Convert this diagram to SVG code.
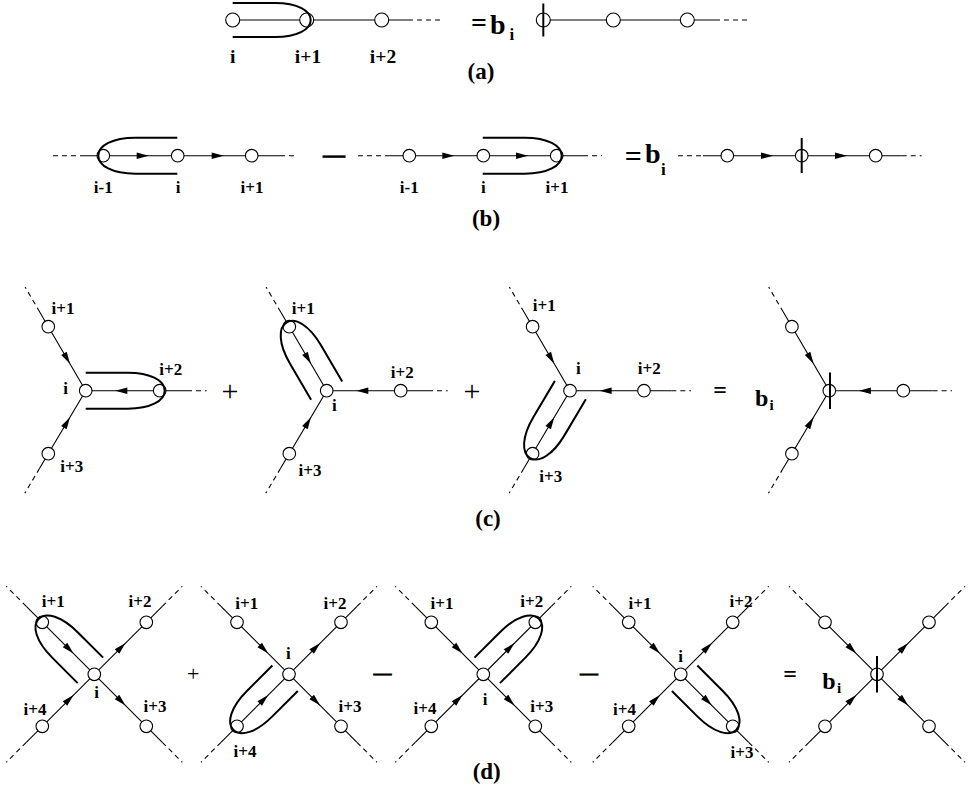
<svg xmlns="http://www.w3.org/2000/svg" xmlns:xlink="http://www.w3.org/1999/xlink" width="980" height="791" viewBox="0 0 980 791">
<style>
.e{stroke:#000;stroke-width:1.1;fill:none}
.d{stroke:#000;stroke-width:1.1;fill:none;stroke-dasharray:5 4}
.n circle{fill:#fff;stroke:#000;stroke-width:1.1}
.lp{stroke:#000;stroke-width:2;fill:none}
.bar{stroke:#000;stroke-width:2}
text{font-family:"Liberation Serif","Times New Roman",serif;font-weight:bold;fill:#000}
.l{font-size:17px;text-anchor:middle}
.la{font-size:19.5px;text-anchor:middle}
.cap{font-size:23px;text-anchor:middle}
.op{font-weight:normal;text-anchor:middle}
.dash{stroke:#000;stroke-width:0.7}
</style>
<defs>
<path id="ah" d="M0,0 L-12,-3.2 L-12,3.2 Z" fill="#000"/>
<path id="lpL" class="lp" d="M-74,-18 L-32,-18 C-9,-18 5,-10 5,0 C5,10 -9,18 -32,18 L-74,18"/>
<path id="lpD" class="lp" d="M-68,-18 L-32,-18 C-9,-18 5,-10 5,0 C5,10 -9,18 -32,18 L-68,18"/>
</defs>

<!-- ================= (a) ================= -->
<g id="connectors-a">
<line class="e" x1="232.7" y1="20" x2="408" y2="20"/>
<line class="d" x1="408" y1="20" x2="443" y2="20"/>
<line class="e" x1="543.3" y1="20" x2="715" y2="20"/>
<line class="d" x1="715" y1="20" x2="750" y2="20"/>
</g>
<g id="a-n-i" class="n"><circle cx="232.7" cy="20" r="7"/></g>
<g id="a-n-i1" class="n"><circle cx="306.7" cy="20" r="7"/></g>
<g id="a-n-i2" class="n"><circle cx="381.7" cy="20" r="7"/></g>
<g id="a-r-n0" class="n"><circle cx="543.3" cy="20" r="7"/></g>
<g id="a-r-n1" class="n"><circle cx="613.3" cy="20" r="7"/></g>
<g id="a-r-n2" class="n"><circle cx="687.3" cy="20" r="7"/></g>
<path class="lp" d="M232.7,3 L275,3 C298,3 310.7,11 310.7,20 C310.7,29 298,37 275,37 L232.7,37"/>
<line class="bar" x1="543.3" y1="3.5" x2="543.3" y2="36.5"/>
<text class="la" x="232.7" y="63">i</text>
<text class="la" x="308" y="63">i+1</text>
<text class="la" x="383" y="63">i+2</text>
<text x="479" y="32" font-size="28" text-anchor="middle">=</text>
<text x="490" y="34.3" font-size="28">b</text>
<text x="509.5" y="39.5" font-size="17">i</text>
<text class="cap" x="481" y="79">(a)</text>

<!-- ================= (b) ================= -->
<g id="connectors-b">
<line class="d" x1="53" y1="155.7" x2="80" y2="155.7"/>
<line class="e" x1="80" y1="155.7" x2="280" y2="155.7"/>
<line class="d" x1="280" y1="155.7" x2="297" y2="155.7"/>
<use xlink:href="#ah" transform="translate(148.7,155.7)"/>
<use xlink:href="#ah" transform="translate(223.7,155.7)"/>

<line class="d" x1="358" y1="155.7" x2="385" y2="155.7"/>
<line class="e" x1="385" y1="155.7" x2="583" y2="155.7"/>
<line class="d" x1="583" y1="155.7" x2="602" y2="155.7"/>
<use xlink:href="#ah" transform="translate(454.3,155.7)"/>
<use xlink:href="#ah" transform="translate(528,155.7)"/>

<line class="d" x1="678" y1="155.7" x2="703" y2="155.7"/>
<line class="e" x1="703" y1="155.7" x2="901.7" y2="155.7"/>
<line class="d" x1="901.7" y1="155.7" x2="921.7" y2="155.7"/>
<use xlink:href="#ah" transform="translate(773,155.7)"/>
<use xlink:href="#ah" transform="translate(847,155.7)"/>
</g>
<g id="b1-n-im1" class="n"><circle cx="103.3" cy="155.7" r="6.3"/></g>
<g id="b1-n-i" class="n"><circle cx="177.7" cy="155.7" r="6.3"/></g>
<g id="b1-n-ip1" class="n"><circle cx="251.7" cy="155.7" r="6.3"/></g>
<g id="b2-n-im1" class="n"><circle cx="409.3" cy="155.7" r="6.3"/></g>
<g id="b2-n-i" class="n"><circle cx="483.3" cy="155.7" r="6.3"/></g>
<g id="b2-n-ip1" class="n"><circle cx="556.7" cy="155.7" r="6.3"/></g>
<g id="b3-n-im1" class="n"><circle cx="727.3" cy="155.7" r="6.3"/></g>
<g id="b3-n-i" class="n"><circle cx="801.7" cy="155.7" r="6.3"/></g>
<g id="b3-n-ip1" class="n"><circle cx="875.7" cy="155.7" r="6.3"/></g>
<line class="bar" x1="801.7" y1="138" x2="801.7" y2="173"/>
<use xlink:href="#lpL" transform="translate(103.3,155.7) rotate(180)"/>
<use xlink:href="#lpL" transform="translate(556.7,155.7)"/>
<text class="l" x="103.3" y="193">i-1</text>
<text class="l" x="178" y="193">i</text>
<text class="l" x="252" y="193">i+1</text>
<text class="l" x="409.3" y="193">i-1</text>
<text class="l" x="483.3" y="193">i</text>
<text class="l" x="557" y="193">i+1</text>
<text class="dash" x="334" y="161.5" font-size="22" text-anchor="middle">—</text>
<text x="633.3" y="166" font-size="30" text-anchor="middle">=</text>
<text x="645" y="162.7" font-size="28">b</text>
<text x="661" y="175" font-size="17">i</text>
<text class="cap" x="486" y="226">(b)</text>

<!-- ================= (c) ================= -->
<g id="connectors-c">
<path class="e" d="M39.7,312 L85.7,390.7 L39.6,468.3 M85.7,390.7 H187"/>
<path class="d" d="M39.7,312 L25.1,287 M39.6,468.3 L24.8,493.3 M187,390.7 H206.7"/>
<use xlink:href="#ah" transform="translate(70,363.8) rotate(59.7)"/>
<use xlink:href="#ah" transform="translate(70,417.2) rotate(-59.3)"/>
<use xlink:href="#ah" transform="translate(115.3,390.7) rotate(180)"/>
<path class="e" d="M280.7,312 L326.7,390.7 L280.6,468.3 M326.7,390.7 H428"/>
<path class="d" d="M280.7,312 L266.1,287 M280.6,468.3 L265.8,493.3 M428,390.7 H447.7"/>
<use xlink:href="#ah" transform="translate(311,363.8) rotate(59.7)"/>
<use xlink:href="#ah" transform="translate(311,417.2) rotate(-59.3)"/>
<use xlink:href="#ah" transform="translate(356.3,390.7) rotate(180)"/>
<path class="e" d="M524,312 L570,390.7 L523.9,468.3 M570,390.7 H671.3"/>
<path class="d" d="M524,312 L509.4,287 M523.9,468.3 L509.1,493.3 M671.3,390.7 H691"/>
<use xlink:href="#ah" transform="translate(554.3,363.8) rotate(59.7)"/>
<use xlink:href="#ah" transform="translate(554.3,417.2) rotate(-59.3)"/>
<use xlink:href="#ah" transform="translate(599.6,390.7) rotate(180)"/>
<path class="e" d="M783.3,312 L829.3,390.7 L783.2,468.3 M829.3,390.7 H932.6"/>
<path class="d" d="M783.3,312 L768.7,287 M783.2,468.3 L768.4,493.3 M932.6,390.7 H952"/>
<use xlink:href="#ah" transform="translate(813.6,363.8) rotate(59.7)"/>
<use xlink:href="#ah" transform="translate(813.6,417.2) rotate(-59.3)"/>
<use xlink:href="#ah" transform="translate(858.9,390.7) rotate(180)"/>
</g>
<g id="c1-n-i" class="n"><circle cx="85.7" cy="390.7" r="6.3"/></g>
<g id="c1-n-i1" class="n"><circle cx="48.3" cy="326.7" r="6.3"/></g>
<g id="c1-n-i2" class="n"><circle cx="159.7" cy="390.7" r="6.3"/></g>
<g id="c1-n-i3" class="n"><circle cx="48.3" cy="453.7" r="6.3"/></g>
<g id="c2-n-i" class="n"><circle cx="326.7" cy="390.7" r="6.3"/></g>
<g id="c2-n-i1" class="n"><circle cx="289.3" cy="326.7" r="6.3"/></g>
<g id="c2-n-i2" class="n"><circle cx="400.7" cy="390.7" r="6.3"/></g>
<g id="c2-n-i3" class="n"><circle cx="289.3" cy="453.7" r="6.3"/></g>
<g id="c3-n-i" class="n"><circle cx="570" cy="390.7" r="6.3"/></g>
<g id="c3-n-i1" class="n"><circle cx="532.6" cy="326.7" r="6.3"/></g>
<g id="c3-n-i2" class="n"><circle cx="644" cy="390.7" r="6.3"/></g>
<g id="c3-n-i3" class="n"><circle cx="532.6" cy="453.7" r="6.3"/></g>
<g id="c4-n-i" class="n"><circle cx="829.3" cy="390.7" r="6.3"/></g>
<g id="c4-n-i1" class="n"><circle cx="791.9" cy="326.7" r="6.3"/></g>
<g id="c4-n-i2" class="n"><circle cx="903.3" cy="390.7" r="6.3"/></g>
<g id="c4-n-i3" class="n"><circle cx="791.9" cy="453.7" r="6.3"/></g>
<line class="bar" x1="830" y1="372.5" x2="830" y2="409"/>
<use xlink:href="#lpL" transform="translate(159.7,390.7)"/>
<use xlink:href="#lpL" transform="translate(289.3,326.7) rotate(-120.3)"/>
<use xlink:href="#lpL" transform="translate(532.6,453.7) rotate(120.7)"/>
<text class="l" x="63" y="314">i+1</text>
<text class="l" x="65.7" y="394">i</text>
<text class="l" x="170.7" y="375">i+2</text>
<text class="l" x="71.7" y="471.5">i+3</text>
<text class="l" x="303.3" y="314">i+1</text>
<text class="l" x="334.3" y="410.7">i</text>
<text class="l" x="402.3" y="378.3">i+2</text>
<text class="l" x="310" y="475.7">i+3</text>
<text class="l" x="544.3" y="311">i+1</text>
<text class="l" x="578.3" y="374">i</text>
<text class="l" x="649.3" y="374">i+2</text>
<text class="l" x="550.7" y="481.7">i+3</text>
<text class="op" x="230" y="400.5" font-size="30">+</text>
<text class="op" x="472" y="400.5" font-size="30">+</text>
<text x="720" y="398" font-size="24" text-anchor="middle">=</text>
<text x="761.7" y="406" font-size="24" text-anchor="middle">b</text>
<text x="769.5" y="410" font-size="15">i</text>
<text class="cap" x="488" y="526">(c)</text>

<!-- ================= (d) ================= -->
<g id="connectors-d">
<path class="e" d="M26.3,606.3 L162.3,742.3 M26.3,742.3 L162.3,606.3"/>
<path class="d" d="M26.3,606.3 L6.3,586.3 M162.3,742.3 L182.3,762.3 M26.3,742.3 L6.3,762.3 M162.3,606.3 L182.3,586.3"/>
<use xlink:href="#ah" transform="translate(73.5,653.5) rotate(45)"/>
<use xlink:href="#ah" transform="translate(125.5,643.1) rotate(-45)"/>
<use xlink:href="#ah" transform="translate(73.5,695.1) rotate(-45)"/>
<use xlink:href="#ah" transform="translate(125.5,705.5) rotate(45)"/>
<path class="e" d="M221,606.3 L357,742.3 M221,742.3 L357,606.3"/>
<path class="d" d="M221,606.3 L201,586.3 M357,742.3 L377,762.3 M221,742.3 L201,762.3 M357,606.3 L377,586.3"/>
<use xlink:href="#ah" transform="translate(268.2,653.5) rotate(45)"/>
<use xlink:href="#ah" transform="translate(320.2,643.1) rotate(-45)"/>
<use xlink:href="#ah" transform="translate(268.2,695.1) rotate(-45)"/>
<use xlink:href="#ah" transform="translate(320.2,705.5) rotate(45)"/>
<path class="e" d="M415.3,606.3 L551.3,742.3 M415.3,742.3 L551.3,606.3"/>
<path class="d" d="M415.3,606.3 L395.3,586.3 M551.3,742.3 L571.3,762.3 M415.3,742.3 L395.3,762.3 M551.3,606.3 L571.3,586.3"/>
<use xlink:href="#ah" transform="translate(462.5,653.5) rotate(45)"/>
<use xlink:href="#ah" transform="translate(514.5,643.1) rotate(-45)"/>
<use xlink:href="#ah" transform="translate(462.5,695.1) rotate(-45)"/>
<use xlink:href="#ah" transform="translate(514.5,705.5) rotate(45)"/>
<path class="e" d="M612.7,606.3 L748.7,742.3 M612.7,742.3 L748.7,606.3"/>
<path class="d" d="M612.7,606.3 L592.7,586.3 M748.7,742.3 L768.7,762.3 M612.7,742.3 L592.7,762.3 M748.7,606.3 L768.7,586.3"/>
<use xlink:href="#ah" transform="translate(659.9,653.5) rotate(45)"/>
<use xlink:href="#ah" transform="translate(711.9,643.1) rotate(-45)"/>
<use xlink:href="#ah" transform="translate(659.9,695.1) rotate(-45)"/>
<use xlink:href="#ah" transform="translate(711.9,705.5) rotate(45)"/>
<path class="e" d="M809,606.3 L945,742.3 M809,742.3 L945,606.3"/>
<path class="d" d="M809,606.3 L789,586.3 M945,742.3 L965,762.3 M809,742.3 L789,762.3 M945,606.3 L965,586.3"/>
<use xlink:href="#ah" transform="translate(856.2,653.5) rotate(45)"/>
<use xlink:href="#ah" transform="translate(908.2,643.1) rotate(-45)"/>
<use xlink:href="#ah" transform="translate(856.2,695.1) rotate(-45)"/>
<use xlink:href="#ah" transform="translate(908.2,705.5) rotate(45)"/>
</g>
<g id="d1-n-i" class="n"><circle cx="94.3" cy="674.3" r="6.3"/></g>
<g id="d1-n-i1" class="n"><circle cx="42.3" cy="622.3" r="6.3"/></g>
<g id="d1-n-i2" class="n"><circle cx="146.3" cy="622.3" r="6.3"/></g>
<g id="d1-n-i3" class="n"><circle cx="146.3" cy="726.3" r="6.3"/></g>
<g id="d1-n-i4" class="n"><circle cx="42.3" cy="726.3" r="6.3"/></g>
<g id="d2-n-i" class="n"><circle cx="289" cy="674.3" r="6.3"/></g>
<g id="d2-n-i1" class="n"><circle cx="237" cy="622.3" r="6.3"/></g>
<g id="d2-n-i2" class="n"><circle cx="341" cy="622.3" r="6.3"/></g>
<g id="d2-n-i3" class="n"><circle cx="341" cy="726.3" r="6.3"/></g>
<g id="d2-n-i4" class="n"><circle cx="237" cy="726.3" r="6.3"/></g>
<g id="d3-n-i" class="n"><circle cx="483.3" cy="674.3" r="6.3"/></g>
<g id="d3-n-i1" class="n"><circle cx="431.3" cy="622.3" r="6.3"/></g>
<g id="d3-n-i2" class="n"><circle cx="535.3" cy="622.3" r="6.3"/></g>
<g id="d3-n-i3" class="n"><circle cx="535.3" cy="726.3" r="6.3"/></g>
<g id="d3-n-i4" class="n"><circle cx="431.3" cy="726.3" r="6.3"/></g>
<g id="d4-n-i" class="n"><circle cx="680.7" cy="674.3" r="6.3"/></g>
<g id="d4-n-i1" class="n"><circle cx="628.7" cy="622.3" r="6.3"/></g>
<g id="d4-n-i2" class="n"><circle cx="732.7" cy="622.3" r="6.3"/></g>
<g id="d4-n-i3" class="n"><circle cx="732.7" cy="726.3" r="6.3"/></g>
<g id="d4-n-i4" class="n"><circle cx="628.7" cy="726.3" r="6.3"/></g>
<g id="d5-n-i" class="n"><circle cx="877" cy="674.3" r="6.3"/></g>
<g id="d5-n-i1" class="n"><circle cx="825" cy="622.3" r="6.3"/></g>
<g id="d5-n-i2" class="n"><circle cx="929" cy="622.3" r="6.3"/></g>
<g id="d5-n-i3" class="n"><circle cx="929" cy="726.3" r="6.3"/></g>
<g id="d5-n-i4" class="n"><circle cx="825" cy="726.3" r="6.3"/></g>
<line class="bar" x1="877" y1="656" x2="877" y2="692.5"/>
<use xlink:href="#lpD" transform="translate(42.3,622.3) rotate(-135)"/>
<use xlink:href="#lpD" transform="translate(237,726.3) rotate(135)"/>
<use xlink:href="#lpD" transform="translate(535.3,622.3) rotate(-45)"/>
<use xlink:href="#lpD" transform="translate(732.7,726.3) rotate(45)"/>
<text class="l" x="53.3" y="607">i+1</text>
<text class="l" x="140" y="607">i+2</text>
<text class="l" x="96.7" y="698">i</text>
<text class="l" x="35" y="715">i+4</text>
<text class="l" x="155" y="712">i+3</text>
<text class="l" x="246.7" y="609">i+1</text>
<text class="l" x="335" y="609">i+2</text>
<text class="l" x="288.3" y="659">i</text>
<text class="l" x="350" y="711.7">i+3</text>
<text class="l" x="245" y="757">i+4</text>
<text class="l" x="442" y="609">i+1</text>
<text class="l" x="531.7" y="607">i+2</text>
<text class="l" x="485" y="705">i</text>
<text class="l" x="425" y="714">i+4</text>
<text class="l" x="541.7" y="712">i+3</text>
<text class="l" x="640" y="609">i+1</text>
<text class="l" x="741" y="607">i+2</text>
<text class="l" x="680.7" y="661.7">i</text>
<text class="l" x="624.5" y="715">i+4</text>
<text class="l" x="742" y="758">i+3</text>
<text class="op" x="193.3" y="680.5" font-size="22">+</text>
<text class="dash" x="382.5" y="679" font-size="18" text-anchor="middle">—</text>
<text class="dash" x="589" y="679" font-size="18" text-anchor="middle">—</text>
<text x="790" y="682" font-size="24" text-anchor="middle">=</text>
<text x="829" y="689" font-size="24" text-anchor="middle">b</text>
<text x="837" y="693" font-size="15">i</text>
<text class="cap" x="486.7" y="779">(d)</text>
</svg>
